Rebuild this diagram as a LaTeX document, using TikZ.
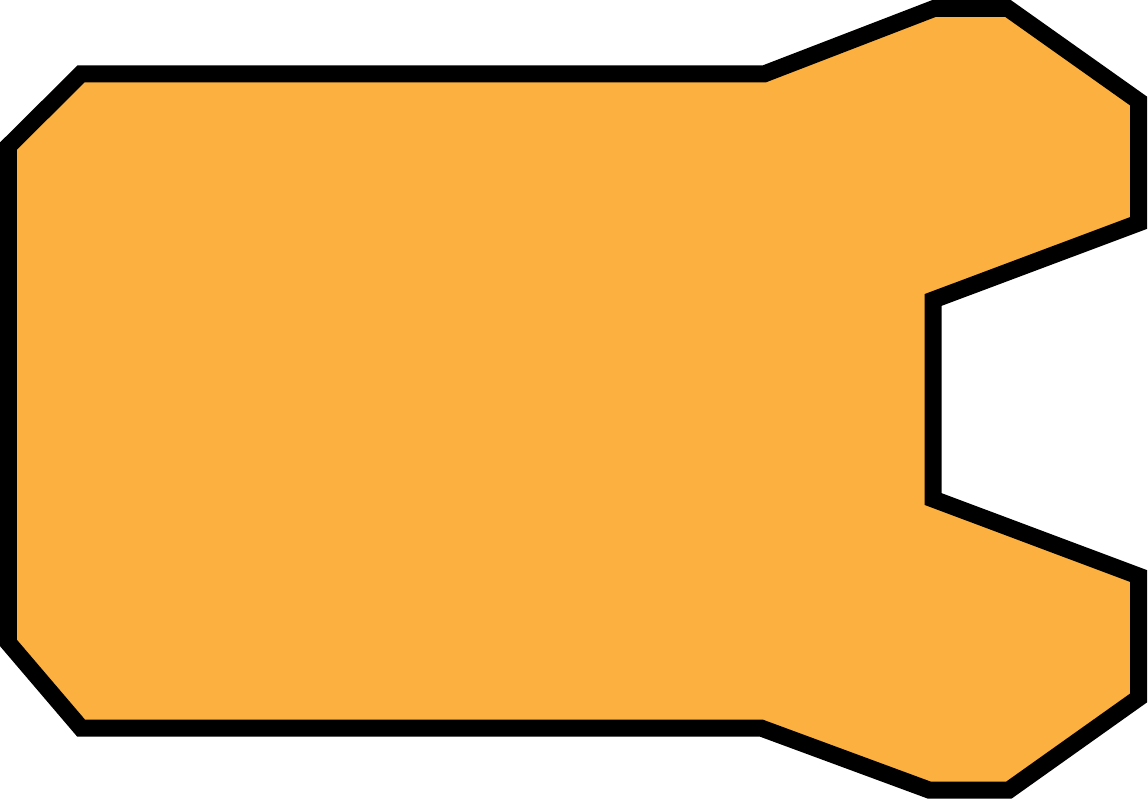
\documentclass[tikz,border=0pt]{standalone}
\usepackage{tikz}
\definecolor{sealfill}{HTML}{FBB040}
\newcommand{\lw}{0.34cm}

\begin{document}
\begin{tikzpicture}[x=0.02cm,y=-0.02cm]
\useasboundingbox (0,0) rectangle (1148,800);
\coordinate (a1) at (8.5,146);
\coordinate (a2) at (81,74);
\coordinate (a3) at (764,74);
\coordinate (a4) at (934,8.5);
\coordinate (a5) at (1008,8.5);
\coordinate (a6) at (1138.5,101);
\coordinate (a7) at (1138.5,223);
\coordinate (a8) at (933,300);
\coordinate (b8) at (933,499);
\coordinate (b7) at (1138.5,576);
\coordinate (b6) at (1138.5,698);
\coordinate (b5) at (1009,790);
\coordinate (b4) at (929,790);
\coordinate (b3) at (761,728);
\coordinate (b2) at (81,728);
\coordinate (b1) at (8.5,643);
\filldraw[fill=sealfill,draw=black,line width=\lw,miter limit=10]
  (a1)--(a2)--(a3)--(a4)--(a5)--(a6)--(a7)--(a8)--(b8)--(b7)--(b6)--(b5)--(b4)--(b3)--(b2)--(b1)--cycle;
\end{tikzpicture}
\end{document}
